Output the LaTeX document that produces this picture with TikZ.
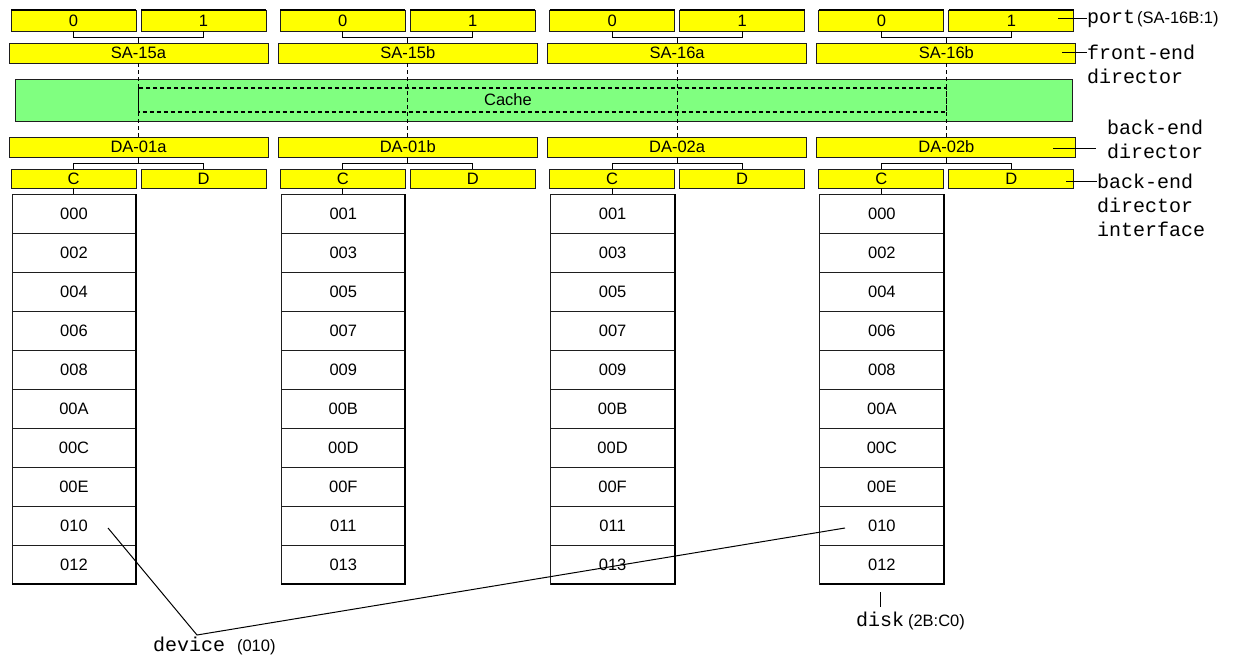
\documentclass[tikz,border=0pt]{standalone}
\usepackage{fontspec}
\setmainfont{Liberation Sans}
\newfontfamily\monofont{Liberation Mono}
\definecolor{boxyellow}{RGB}{255,255,0}
\definecolor{cachegreen}{RGB}{128,255,128}
\definecolor{edge}{RGB}{30,30,30}
\newcommand\boxfont{\fontsize{16.5}{19}\selectfont}
\newcommand\notefont{\monofont\fontsize{20}{24}\selectfont}
\newcommand\parenlabel[1]{{\rmfamily\fontsize{16.5}{19}\selectfont #1}}

\begin{document}
\begin{tikzpicture}[x=1pt, y=-1pt, line width=1pt,
    every node/.style={inner sep=0pt, outer sep=0pt, font=\boxfont},
    halfbox/.style={draw=edge, fill=boxyellow, anchor=north west, minimum width=125pt, minimum height=#1},
    halfbox/.default=19pt,
    fullbox/.style={draw=edge, fill=boxyellow, anchor=north west, minimum width=259pt, minimum height=20pt},
    cachebox/.style={draw=edge, fill=cachegreen, anchor=north west, minimum width=1057pt, minimum height=42pt},
    cell/.style={draw=edge, anchor=north west, minimum width=124pt, minimum height=39pt},
    note/.style={font=\notefont, align=left},
    dashline/.style={dash pattern=on 4pt off 3pt, line width=1.2pt}]
    % 背景と枠
    \useasboundingbox[fill=white] (0,0) rectangle (1235,656);
    % キャッシュ
    \node[cachebox] (cache) at (15,79) {};
    \node (cachetxt) at (508,100) {Cache};
    % 4組のディレクタとディスク
    \foreach \g/\fe/\be/\cells in {%
        0/SA-15a/DA-01a/{000,002,004,006,008,00A,00C,00E,010,012},
        1/SA-15b/DA-01b/{001,003,005,007,009,00B,00D,00F,011,013},
        2/SA-16a/DA-02a/{001,003,005,007,009,00B,00D,00F,011,013},
        3/SA-16b/DA-02b/{000,002,004,006,008,00A,00C,00E,010,012}} {
        \pgfmathsetmacro\xo{9+269.3*\g}
        % ポート
        \node[halfbox=21pt] (pa\g) at (\xo+2,10) {0};
        \node[halfbox=21pt] (pb\g) at (\xo+132,10) {1};
        \draw[line width=2pt] (pa\g.north west) -- (pa\g.north east);
        \draw[line width=2pt] (pb\g.north west) -- (pb\g.north east);
        % フロントエンド
        \node[fullbox] (fe\g) at (\xo,43) {\fe};
        \draw (pa\g.south) -- ++(0,6) -| (pb\g.south);
        \draw (fe\g.north) -- ++(0,-6);
        % バックエンド
        \node[fullbox] (da\g) at (\xo,137) {\be};
        \draw[dashline] (fe\g.south) -- (da\g.north);
        \node[halfbox] (c\g) at (\xo+2,169) {C};
        \node[halfbox] (d\g) at (\xo+132,169) {D};
        \draw (c\g.north) -- ++(0,-6) -| (d\g.north);
        \draw (da\g.south) -- ++(0,6);
        % ディスク
        \foreach \c [count=\r] in \cells
            \node[cell] (dk\g-\r) at (\xo+3,{194+39*(\r-1)}) {\c};
        \draw[line width=2.2pt] (dk\g-1.north east) -- (dk\g-10.south east) -- (dk\g-10.south west);
        \draw (c\g.south) -- (c\g.south |- dk\g-1.north);
    }
    % キャッシュ内の破線枠
    \coordinate (ctop) at (0,88);
    \coordinate (cbot) at (0,112);
    \draw[dashline] (fe0.south |- ctop) rectangle (fe3.south |- cbot);
    % 右側の説明
    \node[note, anchor=base west] (lport) at (1087,23) {port\hspace{2pt}\parenlabel{(SA-16B:1)}};
    \coordinate (tport) at (1058,18);
    \draw (tport) -- (tport -| lport.west);
    \node[note, anchor=north west] (lfe) at (1087,45.5) {front-end\\director};
    \coordinate (tfe) at (1062,52);
    \draw (tfe) -- (tfe -| lfe.west);
    \node[note, anchor=north west] (lbe) at (1107,120.5) {back-end\\director};
    \coordinate (tbea) at (1053,148);
    \coordinate (tbeb) at (1096,148);
    \draw (tbea) -- (tbeb);
    \node[note, anchor=north west] (lif) at (1097,174.5) {back-end\\director\\interface};
    \coordinate (tif) at (1066,181);
    \draw (tif) -- (tif -| lif.west);
    % 下側の説明
    \node[note, anchor=base west] (ldev) at (153,651) {device \parenlabel{(010)}};
    \coordinate (dva) at (108,528);
    \coordinate (dvm) at (197,635);
    \coordinate (dvb) at (845,528);
    \draw (dva) -- (dvm) -- (dvb);
    \node[note, anchor=base west] (ldisk) at (856,626) {disk\hspace{4pt}\parenlabel{(2B:C0)}};
    \coordinate (dka) at (880,592);
    \coordinate (dkb) at (880,607);
    \draw (dka) -- (dkb);
\end{tikzpicture}
\end{document}
